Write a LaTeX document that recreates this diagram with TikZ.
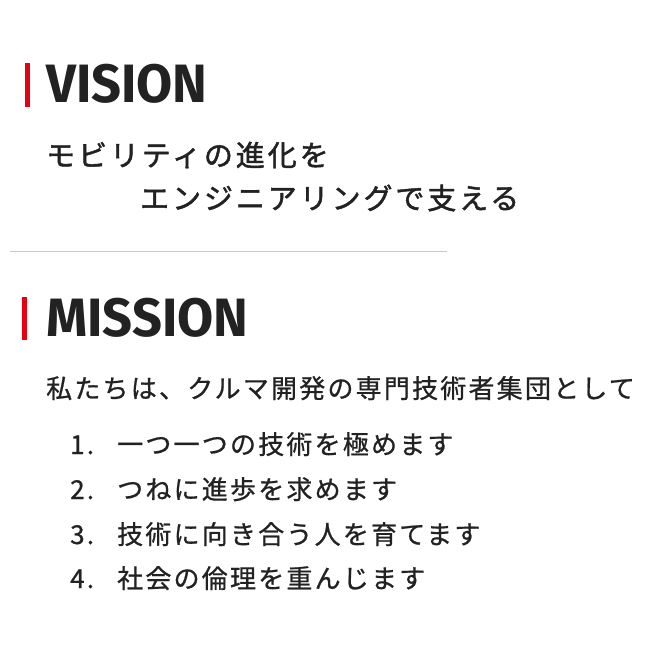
\documentclass[tikz,border=0pt]{standalone}
\usepackage{fontspec}
\newfontfamily\headfont[FakeStretch=0.97]{Fira Sans Bold}
\newfontfamily\cjkv[LetterSpace=10,FakeBold=1.6]{Noto Sans CJK JP}
\newfontfamily\cjkm[LetterSpace=8.5,FakeBold=0.8]{Noto Sans CJK JP}
\definecolor{txt}{HTML}{222222}
\definecolor{accent}{HTML}{E60012}
\definecolor{rule}{HTML}{C8C8C8}
\begin{document}
\begin{tikzpicture}[x=1pt,y=-1pt,
  head/.style={anchor=base west,inner sep=0pt,text=txt,font=\headfont\fontsize{54}{54}\selectfont},
  vline/.style={anchor=base west,inner sep=0pt,text=txt,font=\cjkv\fontsize{29}{29}\selectfont},
  mline/.style={anchor=base west,inner sep=0pt,text=txt,font=\cjkm\fontsize{26}{26}\selectfont},
  bar/.style={fill=accent,draw=none}]
\useasboundingbox[fill=white] (0,0) rectangle (656,647);
% VISION
\fill[bar] (25,63) rectangle (29.5,107);
\node[head] (vision) at (46,103) {VISION};
\node[vline] (v1) at (46,166) {モビリティの進化を};
\node[vline] (v2) at (140,209) {エンジニアリングで支える};
% divider
\coordinate (ra) at (10,252);
\coordinate (rb) at (447,252);
\draw[rule,line width=1pt] (ra) -- (rb);
% MISSION
\fill[bar] (22,297) rectangle (27,340);
\node[head] (mission) at (46,336) {MISSION};
\node[mline] (m0) at (46,398) {私たちは、クルマ開発の専門技術者集団として};
\node[mline] (n1) at (70,454) {1.};
\node[mline] (t1) at (117,454) {一つ一つの技術を極めます};
\node[mline] (n2) at (70,499) {2.};
\node[mline] (t2) at (117,499) {つねに進歩を求めます};
\node[mline] (n3) at (70,544) {3.};
\node[mline] (t3) at (117,544) {技術に向き合う人を育てます};
\node[mline] (n4) at (70,588) {4.};
\node[mline] (t4) at (117,588) {社会の倫理を重んじます};
\end{tikzpicture}
\end{document}
